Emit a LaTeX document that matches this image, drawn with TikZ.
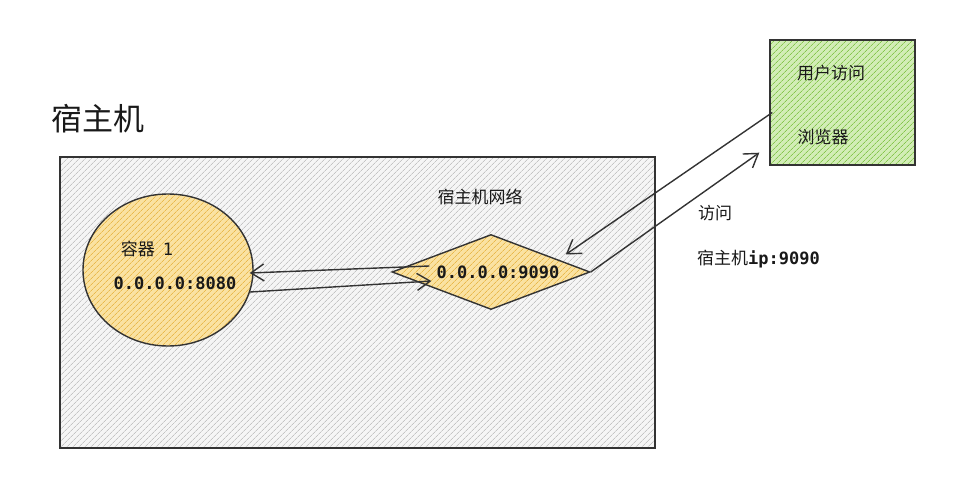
\documentclass[tikz,border=0pt]{standalone}
\usepackage{fontspec}
\setmainfont{Noto Sans CJK SC}
\setmonofont{DejaVu Sans Mono}
\usetikzlibrary{arrows.meta,shapes.geometric,patterns.meta,calc}
\definecolor{hostfill}{HTML}{F5F5F5}
\definecolor{hostline}{HTML}{C4C4C4}
\definecolor{ctfill}{HTML}{FAE2A2}
\definecolor{ctline}{HTML}{E9B94C}
\definecolor{brfill}{HTML}{D2EDB6}
\definecolor{brline}{HTML}{86C64E}
\tikzset{>={Straight Barb[length=13pt,width=17pt]},
  sketch/.style={draw=black!80,line width=1.4pt},
  hatch/.style 2 args={preaction={fill=#1},
    pattern={Lines[angle=45,distance=4pt,line width=.8pt]},pattern color=#2},
  txt/.style={inner sep=0pt,text=black!90,font=\fontsize{17}{20}\selectfont},
  ip/.style={txt,font=\fontsize{17}{20}\selectfont\ttfamily\bfseries}}

\begin{document}
\begin{tikzpicture}[x=1pt,y=-1pt]
  \useasboundingbox (0,0) rectangle (968,484);
  \node[txt,font=\fontsize{31}{34}\selectfont] (title) at (98,119) {宿主机};
  % host box
  \node[sketch,hatch={hostfill}{hostline},minimum width=595pt,
    minimum height=291pt] (host) at (357.5,302.5) {};
  \node[txt] (hostnet) at (480,197) {宿主机网络};
  % container
  \node[ellipse,sketch,hatch={ctfill}{ctline},minimum width=170pt,
    minimum height=152pt] (container) at (168,270) {};
  \node[txt] (cname) at (147,249) {容器\hspace{8pt}\texttt{1}};
  \node[ip] (cport) at (175,283) {0.0.0.0:8080};
  % host network
  \node[diamond,sketch,hatch={ctfill}{ctline},minimum width=198pt,
    minimum height=75pt,inner sep=0pt] (net) at (491,272) {};
  \node[ip] (nport) at (498,272) {0.0.0.0:9090};
  % browser
  \node[sketch,hatch={brfill}{brline},minimum width=145pt,
    minimum height=125pt] (browser) at (842.5,102.5) {};
  \node[txt] (user) at (831,73) {用户访问};
  \node[txt] (bname) at (823,137) {浏览器};
  \node[txt] (visit) at (715,213) {访问};
  \node[txt,anchor=west] (hostip) at (697,259) {宿主机\texttt{\bfseries ip:9090}};
  % arrows
  \draw[sketch,->] ($(browser.west)+(3,10)$) --
    ($(net.east)!.25!(net.north)+(0,-8)$);
  \draw[sketch,->] (net.east) -- ($(browser.south west)+(-10,-13)$);
  \draw[sketch,->] ($(net.west)+(38,-6)$) -- ($(container.east)+(-4,3)$);
  \draw[sketch,->] (container.-15) -- ($(net.west)+(40,9)$);
\end{tikzpicture}
\end{document}
